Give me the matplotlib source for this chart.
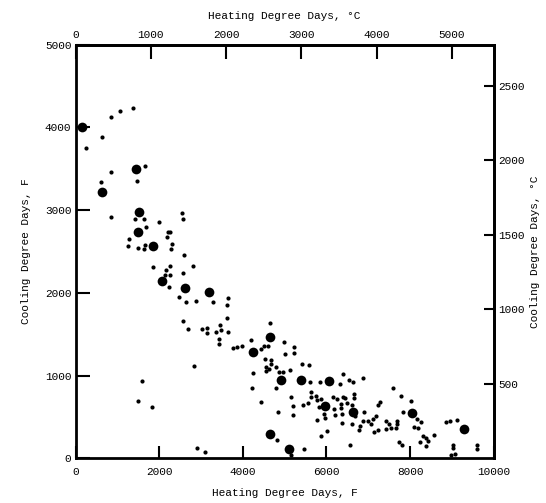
import numpy as np
import matplotlib.pyplot as plt

# heating / cooling degree days (F)
hdd_small = [840, 1060, 1380, 630, 260, 1660, 840, 610, 1460, 850, 1430, 1640,
             2550, 2570, 1990, 1690, 2220, 2270, 2180, 1270, 1255, 1500, 1670,
             1640, 2315, 2280, 2590, 2810, 1845, 2165, 2265, 2140, 2250, 2575,
             2235, 2465, 2645, 2880, 3285, 3650, 3630, 2560, 2685, 3620, 3035,
             3145, 3150, 3350, 3455, 3470, 3645, 3430, 3430, 2825, 3765, 3850,
             3990, 4200, 4655, 4995, 5225, 5005, 5225, 4430, 4505, 4600, 4540,
             4675, 4685, 4555, 4565, 4635, 4250, 4230, 4800, 4805, 4865, 4960,
             5135, 5410, 5580, 5610, 5845, 6330, 6400, 6550, 6630, 6880, 7600,
             5150, 5635, 5740, 5635, 6145, 6450, 6665, 5190, 5190, 5430, 5560,
             5775, 5860, 5810, 6260, 6395, 5770, 5930, 5970, 6020, 5870, 6190,
             6215, 6355, 6340, 6375, 6495, 6610, 6670, 6690, 6375, 6610, 6795,
             6770, 6885, 7005, 6565, 6900, 7105, 7075, 7190, 7230, 7290, 7140,
             7235, 7435, 7495, 7435, 7555, 7685, 7695, 7655, 7785, 7835, 7740,
             7810, 8020, 8170, 8265, 8095, 8200, 8305, 8380, 8435, 8370, 8580,
             8240, 8870, 8960, 9120, 9030, 9015, 8970, 9070, 9600, 9600, 4815,
             5155, 5475, 2910, 3100, 1590, 1495, 1835, 4425, 4830]
cdd_small = [4120, 4200, 4230, 3880, 3745, 3535, 3460, 3345, 3355, 2920, 2890, 2890,
             2965, 2890, 2860, 2795, 2730, 2730, 2680, 2650, 2570, 2540, 2575,
             2530, 2590, 2535, 2455, 2330, 2310, 2280, 2320, 2220, 2220, 2245,
             2065, 1955, 1885, 1905, 1885, 1935, 1850, 1655, 1565, 1690, 1560,
             1580, 1515, 1525, 1615, 1555, 1530, 1445, 1385, 1120, 1335, 1345,
             1355, 1425, 1635, 1400, 1345, 1260, 1270, 1320, 1360, 1355, 1205,
             1190, 1145, 1100, 1055, 1085, 1030, 855, 850, 1100, 1040, 1040,
             1070, 1145, 1125, 925, 920, 895, 1020, 945, 920, 965, 845,
             745, 800, 755, 735, 740, 730, 775, 635, 525, 640, 670,
             705, 715, 620, 720, 740, 460, 535, 485, 325, 270, 600,
             520, 655, 610, 530, 670, 645, 725, 515, 425, 415, 395,
             340, 455, 445, 165, 560, 480, 415, 515, 645, 685, 315,
             345, 445, 415, 350, 365, 455, 415, 360, 755, 555, 195,
             165, 690, 475, 435, 380, 360, 275, 250, 205, 150, 280,
             195, 435, 450, 460, 160, 120, 35, 50, 160, 115, 220,
             45, 110, 125, 70, 935, 690, 625, 675, 555]

hdd_large = [160, 1450, 640, 1510, 1485, 1860, 2065, 2615, 3180, 4650,
             4245, 4915, 5395, 6060, 5960, 6645, 8050, 9300, 4655, 5115]
cdd_large = [4010, 3500, 3220, 2975, 2730, 2565, 2140, 2060, 2015, 1460,
             1290, 945, 950, 940, 635, 565, 550, 355, 290, 110]

x_ticks_f = [0, 2000, 4000, 6000, 8000, 10000]
y_ticks_f = [0, 1000, 2000, 3000, 4000, 5000]
x_ticks_c = [0, 1000, 2000, 3000, 4000, 5000]
y_ticks_c = [500, 1000, 1500, 2000, 2500]

font = "Liberation Mono"
plt.rcParams['font.family'] = font
plt.rcParams['font.size'] = 8

fig = plt.figure(figsize=(5.46, 5.03), dpi=100)
ax = fig.add_axes([0.1383, 0.0889, 0.766, 0.8224])

ax.plot(hdd_small, cdd_small, 'o', color='black', markersize=3.0,
        markeredgewidth=0, clip_on=False, zorder=3)
ax.plot(hdd_large, cdd_large, 'o', color='black', markersize=7,
        markeredgewidth=0, clip_on=False, zorder=3)

ax.set_xlim(0, 10000)
ax.set_ylim(0, 5000)
ax.set_xticks(x_ticks_f)
ax.set_yticks(y_ticks_f)
ax.tick_params(axis='x', direction='in', length=9, width=1.5, pad=6)
ax.tick_params(axis='y', direction='in', length=10, width=1.5, pad=3)
for s in ax.spines.values():
    s.set_linewidth(2)

ax.set_xlabel("Heating Degree Days, F", labelpad=8)
ax.set_ylabel("Cooling Degree Days, F", labelpad=10)

top = ax.secondary_xaxis('top', functions=(lambda f: f / 1.8, lambda c: c * 1.8))
top.set_xticks(x_ticks_c)
top.tick_params(direction='in', length=10, width=1.5, pad=3)
top.spines['top'].set_linewidth(2)
top.set_xlabel("Heating Degree Days, °C", labelpad=8)

right = ax.secondary_yaxis('right', functions=(lambda f: f / 1.8, lambda c: c * 1.8))
right.set_yticks(y_ticks_c)
right.tick_params(direction='in', length=7, width=1.5, pad=3)
right.spines['right'].set_linewidth(2)
right.set_ylabel("Cooling Degree Days, °C", labelpad=4)

fig.savefig("out.png", dpi=100)
